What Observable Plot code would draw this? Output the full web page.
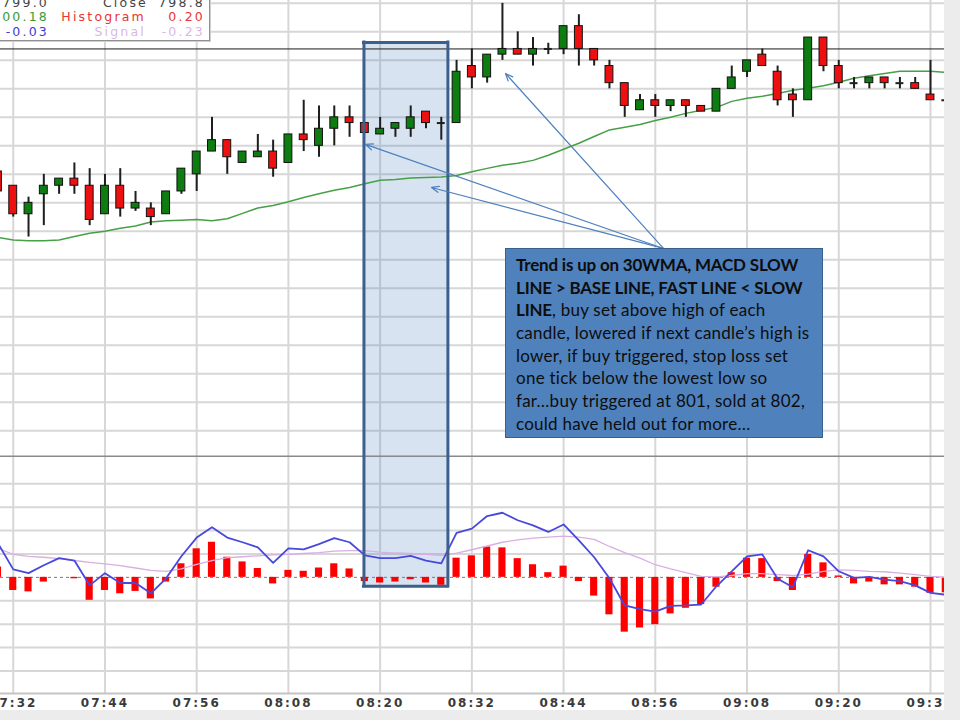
<!DOCTYPE html>
<html>
<head>
<meta charset="utf-8">
<script src="https://cdn.jsdelivr.net/npm/d3@7"></script>
<script src="https://cdn.jsdelivr.net/npm/@observablehq/plot@0.6"></script>
<style>
  html, body { margin: 0; padding: 0; background: #ececec; }
  #chart { position: relative; width: 960px; height: 720px; overflow: hidden; background: #ececec; }
  #price, #macd { position: absolute; left: 0; }
  #price { top: 0; }
  #macd { top: 457px; }
  .axis-labels text { letter-spacing: 2px; }
  .readout {
    position: absolute; left: -1px; top: -6px; width: 209px; height: 45px;
    background: #fff; border: 1px solid #8f8f8f; box-shadow: 1px 1px 0 #cfcfcf;
    font: 12.5px "DejaVu Sans", sans-serif; letter-spacing: 2.2px;
  }
  .readout span { position: absolute; white-space: nowrap; line-height: 14px; }
  .note {
    position: absolute; left: 505px; top: 248px; width: 318px; height: 190px;
    box-sizing: border-box; background: #4f81bd; border: 1px solid #3a5f8d;
    padding: 5px 0 0 10px; font: 17px Lato, sans-serif; color: #0d0d0d; letter-spacing: 0.25px;
  }
  .note div { white-space: nowrap; line-height: 22.7px; height: 22.7px; }
  .note b { letter-spacing: -0.2px; }
</style>
</head>
<body>
<div id="chart">
  <div id="price"></div>
  <div id="macd"></div>
  <div class="readout">
    <span style="top:0.5px; right:160px; color:#444;">799.0</span>
    <span style="top:0.5px; right:61px; color:#444;">Close</span>
    <span style="top:0.5px; right:4px; color:#444;">798.8</span>
    <span style="top:15px; right:160px; color:#3a9a3a;">00.18</span>
    <span style="top:15px; right:63px; color:#e83434;">Histogram</span>
    <span style="top:15px; right:4px; color:#e83434;">0.20</span>
    <span style="top:30px; right:160px; color:#3c3cd2;">-0.03</span>
    <span style="top:30px; right:63px; color:#d9b8e2;">Signal</span>
    <span style="top:30px; right:4px; color:#d9b8e2;">-0.23</span>
  </div>
  <div class="note">
    <div><b>Trend is up on 30WMA, MACD SLOW</b></div>
    <div><b>LINE &gt; BASE LINE, FAST LINE &lt; SLOW</b></div>
    <div><b>LINE</b>, buy set above high of each</div>
    <div>candle, lowered if next candle’s high is</div>
    <div>lower, if buy triggered, stop loss set</div>
    <div>one tick below the lowest low so</div>
    <div>far…buy triggered at 801, sold at 802,</div>
    <div>could have held out for more…</div>
  </div>
</div>
<script>
// 2-minute candles
const times = [
  "07:30","07:32","07:34","07:36","07:38","07:40","07:42","07:44","07:46","07:48","07:50","07:52","07:54","07:56","07:58",
  "08:00","08:02","08:04","08:06","08:08","08:10","08:12","08:14","08:16","08:18","08:20","08:22","08:24","08:26","08:28",
  "08:30","08:32","08:34","08:36","08:38","08:40","08:42","08:44","08:46","08:48","08:50","08:52","08:54","08:56","08:58",
  "09:00","09:02","09:04","09:06","09:08","09:10","09:12","09:14","09:16","09:18","09:20","09:22","09:24","09:26","09:28",
  "09:30","09:32","09:34"
];
const open = [
  799.1, 798.6, 797.6, 798.3, 798.6, 798.85, 798.6, 797.6, 798.6, 797.8, 797.8, 797.6, 798.4, 799.0, 799.8,
  800.2, 799.4, 799.6, 799.8, 799.4, 800.4, 800.0, 800.6, 801.0, 800.8, 800.4, 800.6, 800.6, 801.2, 800.8,
  800.8, 802.8, 802.4, 803.2, 803.4, 803.2, 803.4, 803.4, 804.2, 803.4, 802.8, 802.2, 801.25, 801.6, 801.4,
  801.6, 801.4, 801.2, 802.0, 802.6, 803.2, 802.6, 801.8, 801.6, 803.8, 802.8, 802.2, 802.2, 802.4, 802.2,
  802.2, 801.8, 801.6
];
const high = [
  799.6, 798.6, 798.2, 799.0, 798.85, 799.4, 799.2, 799.0, 799.2, 798.4, 798.0, 798.4, 799.2, 799.8, 801.0,
  800.2, 799.8, 800.4, 800.2, 800.4, 801.6, 801.4, 801.4, 801.4, 800.8, 801.0, 800.8, 801.4, 801.2, 801.0,
  803.0, 803.4, 803.2, 805.0, 804.0, 803.8, 803.6, 804.2, 804.6, 803.4, 803.0, 802.2, 801.8, 801.8, 801.6,
  801.6, 801.4, 802.0, 802.8, 803.0, 803.4, 802.8, 802.0, 803.8, 803.8, 803.0, 802.4, 802.4, 802.4, 802.4,
  802.4, 803.0, 801.6
];
const low = [
  798.3, 797.5, 796.8, 797.2, 798.3, 798.3, 797.2, 797.6, 797.5, 797.7, 797.2, 797.6, 798.3, 798.4, 799.8,
  799.0, 799.4, 799.6, 798.9, 799.4, 799.8, 799.6, 800.0, 800.3, 800.45, 800.4, 800.3, 800.3, 800.6, 800.2,
  800.8, 802.0, 802.2, 803.0, 803.2, 802.8, 803.2, 803.2, 802.8, 802.8, 802.0, 801.0, 801.25, 801.0, 801.2,
  801.0, 801.2, 801.2, 802.0, 802.4, 802.8, 801.4, 801.0, 801.6, 802.6, 802.0, 802.0, 802.0, 802.0, 802.0,
  802.0, 801.6, 801.6
];
const close = [
  798.4, 797.6, 798.0, 798.6, 798.85, 798.6, 797.4, 798.6, 797.8, 798.0, 797.5, 798.4, 799.2, 799.8, 800.2,
  799.6, 799.8, 799.8, 799.2, 800.4, 800.2, 800.6, 801.0, 800.8, 800.45, 800.6, 800.8, 801.0, 800.8, 800.8,
  802.6, 802.4, 803.2, 803.4, 803.2, 803.4, 803.4, 804.2, 803.4, 803.0, 802.2, 801.4, 801.6, 801.4, 801.6,
  801.4, 801.2, 802.0, 802.4, 803.0, 802.8, 801.6, 801.6, 803.8, 802.8, 802.2, 802.2, 802.4, 802.2, 802.2,
  802.0, 801.6, 801.6
];
// 30-period weighted moving average
const wma30 = [
  796.79, 796.70, 796.67, 796.67, 796.70, 796.82, 796.93, 797.00, 797.11, 797.19, 797.33, 797.37, 797.39, 797.42, 797.37,
  797.44, 797.63, 797.82, 797.91, 798.04, 798.19, 798.32, 798.44, 798.54, 798.67, 798.79, 798.82, 798.87, 798.89, 798.91,
  798.96, 799.09, 799.21, 799.32, 799.39, 799.49, 799.67, 799.88, 800.09, 800.33, 800.56, 800.65, 800.75, 800.89, 801.00,
  801.14, 801.25, 801.35, 801.56, 801.67, 801.74, 801.84, 801.95, 802.02, 802.11, 802.23, 802.37, 802.46, 802.54, 802.62,
  802.62, 802.62, 802.58
];
// MACD panel
const macdLine = [
  0.73, 0.17, 0.09, 0.26, 0.41, 0.36, -0.17, 0.09, -0.12, -0.12, -0.34, -0.02, 0.45, 0.85, 1.07,
  0.85, 0.75, 0.64, 0.31, 0.62, 0.60, 0.71, 0.84, 0.75, 0.47, 0.41, 0.41, 0.46, 0.36, 0.30,
  0.95, 1.04, 1.31, 1.38, 1.22, 1.11, 0.97, 1.13, 0.79, 0.43, -0.02, -0.60, -0.68, -0.73, -0.61,
  -0.60, -0.58, -0.19, 0.13, 0.45, 0.49, -0.03, -0.21, 0.58, 0.45, 0.13, -0.01, 0.01, -0.05, -0.08,
  -0.17, -0.33, -0.37
];
const signalLine = [
  0.62, 0.49, 0.45, 0.43, 0.40, 0.36, 0.32, 0.29, 0.25, 0.20, 0.15, 0.13, 0.18, 0.28, 0.36,
  0.42, 0.44, 0.46, 0.48, 0.49, 0.51, 0.53, 0.56, 0.57, 0.57, 0.54, 0.52, 0.51, 0.49, 0.47,
  0.52, 0.59, 0.67, 0.75, 0.80, 0.84, 0.86, 0.88, 0.86, 0.81, 0.66, 0.53, 0.41, 0.27, 0.18,
  0.10, 0.02, 0.01, 0.04, 0.08, 0.08, 0.06, 0.04, 0.07, 0.13, 0.16, 0.15, 0.13, 0.12, 0.09,
  0.06, 0.02, 0.00
];
const histogram = [
  0.22, -0.28, -0.31, -0.10, 0.00, -0.03, -0.49, -0.28, -0.35, -0.30, -0.46, -0.10, 0.29, 0.61, 0.75,
  0.43, 0.33, 0.19, -0.14, 0.15, 0.13, 0.20, 0.29, 0.18, -0.09, -0.12, -0.10, -0.05, -0.12, -0.17,
  0.41, 0.46, 0.65, 0.63, 0.40, 0.27, 0.10, 0.24, -0.09, -0.40, -0.80, -1.17, -1.08, -1.01, -0.78,
  -0.66, -0.58, -0.21, 0.10, 0.41, 0.40, -0.09, -0.28, 0.49, 0.31, 0.03, -0.14, -0.10, -0.16, -0.16,
  -0.21, -0.34, -0.33
];
const tickTimes = ["07:32","07:44","07:56","08:08","08:20","08:32","08:44","08:56","09:08","09:20","09:32"];
const priceGrid = [790, 791, 792, 793, 794, 795, 796, 797, 798, 799, 800, 801, 802, 803, 804, 805];
const macdGrid = [-2, -1.5, -1, -0.5, 0.5, 1, 1.5, 2];
const levelLine = [803.4];

// highlighted setup window and the callout arrows
const setupWindow = {start: "08:17:53", end: "08:28:52", priceTop: 803.63, macdBottom: -0.19};
const noteAnchor = {time: "08:57:04", price: 796.40};
const noteTargets = [
  {time: "08:36:24", price: 802.54},
  {time: "08:18:05", price: 800.05},
  {time: "08:26:43", price: 798.54}
];

const hm = d3.utcParse("%H:%M");
const hms = d3.utcParse("%H:%M:%S");
const xDomain = [hms("07:30:20"), hms("09:33:50")];
const priceDomain = [789.1, 805.1];
const macdDomain = [-2.48, 2.56];

const candles = times.map((t, i) => ({
  date: hm(t), open: open[i], high: high[i], low: low[i], close: close[i],
  wma: wma30[i], macd: macdLine[i], signal: signalLine[i], hist: histogram[i]
}));
const ticks = tickTimes.map(hm);
const win = {start: hms(setupWindow.start), end: hms(setupWindow.end)};
const arrows = noteTargets.map(d => ({x1: hms(noteAnchor.time), y1: noteAnchor.price, x2: hms(d.time), y2: d.price}));

const bodyHalf = 31e3, barHalf = 28e3;
const gridStyle = {stroke: "#d7d7d7", strokeOpacity: 1, strokeWidth: 2};
const boxFill = {fill: "#4f81bd", fillOpacity: 0.22};
const boxEdge = {stroke: "#3d5f8c", strokeWidth: 3, strokeLinecap: "square"};
const GREEN = "#0d7d12", RED = "#ee1010";

const pricePlot = Plot.plot({
  width: 944, height: 457,
  marginTop: 0, marginRight: 0, marginBottom: 1, marginLeft: 0,
  style: {background: "#ffffff"},
  x: {type: "utc", domain: xDomain, axis: null},
  y: {domain: priceDomain, axis: null},
  color: {type: "identity"},
  marks: [
    Plot.gridX(ticks, gridStyle),
    Plot.gridY(priceGrid, gridStyle),
    Plot.frame({anchor: "bottom", stroke: "#8a8a8a", strokeWidth: 2}),
    Plot.rect([win], {x1: "start", x2: "end", y1: setupWindow.priceTop, y2: priceDomain[0], ...boxFill}),
    Plot.ruleY(levelLine, {stroke: "#1a1a1a", strokeWidth: 1}),
    Plot.line(candles, {x: "date", y: "wma", stroke: "#46a046", strokeWidth: 1.5}),
    Plot.ruleX(candles, {x: "date", y1: "low", y2: "high", stroke: "#1e1e1e", strokeWidth: 2}),
    Plot.rect(candles.filter(d => d.open !== d.close), {
      x1: d => new Date(+d.date - bodyHalf), x2: d => new Date(+d.date + bodyHalf),
      y1: "open", y2: "close",
      fill: d => d.close > d.open ? GREEN : RED, stroke: "#111", strokeWidth: 1
    }),
    Plot.ruleY(candles.filter(d => d.open === d.close), {
      x1: d => new Date(+d.date - bodyHalf), x2: d => new Date(+d.date + bodyHalf),
      y: "close", stroke: "#1e1e1e", strokeWidth: 2
    }),
    Plot.ruleX([win.start, win.end], {y1: setupWindow.priceTop, y2: priceDomain[0], ...boxEdge}),
    Plot.ruleY([setupWindow.priceTop], {x1: win.start, x2: win.end, ...boxEdge}),
    Plot.arrow(arrows, {x1: "x1", y1: "y1", x2: "x2", y2: "y2", stroke: "#4f80be", strokeWidth: 1.2, headLength: 10, headAngle: 45})
  ]
});
document.getElementById("price").append(pricePlot);

const macdPlot = Plot.plot({
  width: 944, height: 253,
  marginTop: 0, marginRight: 0, marginBottom: 17, marginLeft: 0,
  className: "axis-labels",
  style: {background: "#ffffff"},
  x: {type: "utc", domain: xDomain, axis: null},
  y: {domain: macdDomain, axis: null},
  marks: [
    Plot.gridX(ticks, gridStyle),
    Plot.gridY(macdGrid, gridStyle),
    Plot.rect([win], {x1: "start", x2: "end", y1: macdDomain[1], y2: setupWindow.macdBottom, ...boxFill}),
    Plot.ruleY([0], {stroke: "#7a7a7a", strokeWidth: 1, strokeDasharray: "3,3"}),
    Plot.rect(candles, {
      x1: d => new Date(+d.date - barHalf), x2: d => new Date(+d.date + barHalf),
      y1: 0, y2: "hist", fill: "#ff0000"
    }),
    Plot.line(candles, {x: "date", y: "signal", stroke: "#d9aee4", strokeWidth: 1.3}),
    Plot.line(candles, {x: "date", y: "macd", stroke: "#4848dc", strokeWidth: 1.8}),
    Plot.ruleX([win.start, win.end], {y1: setupWindow.macdBottom, y2: macdDomain[1], ...boxEdge}),
    Plot.ruleY([setupWindow.macdBottom], {x1: win.start, x2: win.end, ...boxEdge}),
    Plot.frame({anchor: "bottom", stroke: "#c4c4c4", strokeWidth: 2}),
    Plot.axisX(ticks, {
      tickFormat: d3.utcFormat("%H:%M"), tickSize: 0, tickPadding: 5,
      fontSize: 12, fontWeight: "bold", fontFamily: "DejaVu Sans", fill: "#3a3a3a", label: null
    })
  ]
});
document.getElementById("macd").append(macdPlot);
</script>
</body>
</html>
